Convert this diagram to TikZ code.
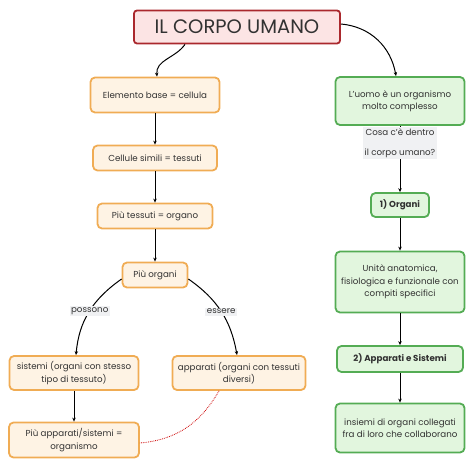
\documentclass[tikz,border=0pt]{standalone}
\usepackage{fontspec}
\setmainfont{Poppins}
\usetikzlibrary{arrows.meta, positioning}
\definecolor{titleline}{RGB}{170,40,45}
\definecolor{titlefill}{RGB}{252,228,228}
\definecolor{orangeline}{RGB}{240,172,84}
\definecolor{orangefill}{RGB}{254,243,228}
\definecolor{greenline}{RGB}{84,172,84}
\definecolor{greenfill}{RGB}{226,246,222}
\definecolor{labelfill}{RGB}{240,241,243}
\definecolor{textgray}{RGB}{50,50,50}
\tikzset{
    titlenode/.style = {draw=titleline, fill=titlefill, rectangle, rounded corners=0.3em, line width=1.8pt,
      inner sep=0pt, minimum width=206pt, minimum height=33pt, text=textgray, font=\fontsize{19.5}{21}\selectfont},
    orangenode/.style = {draw=orangeline, fill=orangefill, rectangle, rounded corners=0.45em, line width=1.8pt,
      inner sep=0pt, align=center, text=textgray, font=\fontsize{8.7}{12.5}\selectfont},
    greennode/.style = {draw=greenline, fill=greenfill, rectangle, rounded corners=0.45em, line width=1.8pt,
      inner sep=0pt, align=center, text=textgray, font=\fontsize{8.7}{12.5}\selectfont},
    labelnode/.style = {fill=labelfill, inner sep=1.5pt, align=center, text=textgray, font=\fontsize{8.7}{12.5}\selectfont},
    connect/.style = {black, line width=1pt, -{Stealth[length=4pt, width=3.5pt]}},
    dotconnect/.style = {red!80!black, line width=0.8pt, densely dotted}
}
\begin{document}
\begin{tikzpicture}[x=1pt, y=-1pt]
    \useasboundingbox (0,0) rectangle (474,468);
    \node [titlenode, name=Title] at (237,27) {IL CORPO UMANO};

    % colonna sinistra
    \node [orangenode, name=Cellula, minimum width=129pt, minimum height=35pt] at (155,95) {Elemento base = cellula};
    \node [orangenode, name=Tessuti, minimum width=124pt, minimum height=25pt] at (155,158) {Cellule simili = tessuti};
    \node [orangenode, name=Organo, minimum width=115pt, minimum height=25pt] at (155,216) {Più tessuti = organo};
    \node [orangenode, name=Organi, minimum width=65pt, minimum height=25pt] at (155,275) {Più organi};
    \node [orangenode, name=Sistemi, minimum width=129pt, minimum height=34pt] at (74,373)
        {sistemi (organi con stesso\\tipo di tessuto)};
    \node [orangenode, name=Apparati, minimum width=133pt, minimum height=34pt] at (239,373)
        {apparati (organi con tessuti\\diversi)};
    \node [orangenode, name=Organismo, minimum width=130pt, minimum height=35pt] at (74,440)
        {Più apparati/sistemi =\\organismo};

    % colonna destra
    \node [greennode, name=Uomo, minimum width=129pt, minimum height=48pt] at (400,101)
        {L'uomo è un organismo\\molto complesso};
    \node [greennode, name=OrganiR, minimum width=58pt, minimum height=24pt, font=\fontsize{8.7}{12.5}\selectfont\bfseries]
        at (400,205) {1) Organi};
    \node [greennode, name=Unita, minimum width=129pt, minimum height=61pt] at (400,282)
        {Unità anatomica,\\fisiologica e funzionale con\\compiti specifici};
    \node [greennode, name=ApparatiR, minimum width=126pt, minimum height=26pt, font=\fontsize{8.7}{12.5}\selectfont\bfseries]
        at (400,359) {2) Apparati e Sistemi};
    \node [greennode, name=Insiemi, minimum width=129pt, minimum height=49pt] at (400,428)
        {insiemi di organi collegati\\fra di loro che collaborano};

    \draw [connect] ([xshift=-52pt]Title.south) to[out=-125, in=95] ([xshift=2pt]Cellula.north);
    \draw [connect] ([yshift=3pt]Title.east) to[out=-5, in=100] ([xshift=-4pt]Uomo.north);
    \draw [connect] (Cellula) -- (Tessuti);
    \draw [connect] (Tessuti) -- (Organo);
    \draw [connect] (Organo) -- (Organi);
    \draw [connect] ([yshift=-4pt]Organi.west) to[out=215, in=85]
        node[labelnode, pos=0.49] {possono} ([xshift=2pt]Sistemi.north);
    \draw [connect] ([yshift=-4pt]Organi.east) to[out=-35, in=100]
        node[labelnode, pos=0.5] {essere} ([xshift=-2pt]Apparati.north);
    \draw [connect] (Sistemi) -- (Organismo);
    \draw [dotconnect] ([xshift=-20pt]Apparati.south) to[out=240, in=5] ([yshift=-3pt]Organismo.east);

    \draw [connect] (Uomo) -- node[labelnode, pos=0.26, font=\fontsize{8.7}{20}\selectfont]
        {Cosa c'è dentro\\il corpo umano?} (OrganiR);
    \draw [connect] (OrganiR) -- (Unita);
    \draw [connect] (Unita) -- (ApparatiR);
    \draw [connect] (ApparatiR) -- (Insiemi);
\end{tikzpicture}
\end{document}
